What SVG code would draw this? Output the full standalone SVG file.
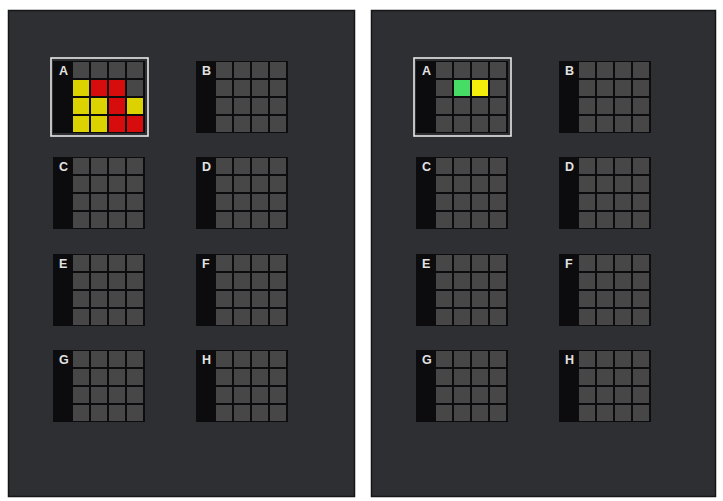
<svg xmlns="http://www.w3.org/2000/svg" xmlns:xlink="http://www.w3.org/1999/xlink" width="723" height="501" viewBox="0 0 723 501">
<style>
.panel{fill:#2e2f33;stroke:#161618;stroke-width:1.5}
.blk{fill:#0c0c0e}
.cell{fill:#474747}
.lbl{font-family:"Liberation Sans",Arial,sans-serif;font-weight:bold;font-size:12.5px;fill:#e2e2e2}
.sel{fill:none;stroke:#e8e8e8;stroke-width:1.6}
.y{fill:#dbd200}
.r{fill:#d70d0d}
.g{fill:#46dc66}
.by{fill:#f4ee0c}
</style>
<defs>
<g id="grid">
<rect class="blk" x="0" y="0" width="92" height="72"/>
<rect class="cell" x="20" y="1" width="16" height="16"/>
<rect class="cell" x="38" y="1" width="16" height="16"/>
<rect class="cell" x="56" y="1" width="16" height="16"/>
<rect class="cell" x="74" y="1" width="16" height="16"/>
<rect class="cell" x="20" y="19" width="16" height="16"/>
<rect class="cell" x="38" y="19" width="16" height="16"/>
<rect class="cell" x="56" y="19" width="16" height="16"/>
<rect class="cell" x="74" y="19" width="16" height="16"/>
<rect class="cell" x="20" y="37" width="16" height="16"/>
<rect class="cell" x="38" y="37" width="16" height="16"/>
<rect class="cell" x="56" y="37" width="16" height="16"/>
<rect class="cell" x="74" y="37" width="16" height="16"/>
<rect class="cell" x="20" y="55" width="16" height="16"/>
<rect class="cell" x="38" y="55" width="16" height="16"/>
<rect class="cell" x="56" y="55" width="16" height="16"/>
<rect class="cell" x="74" y="55" width="16" height="16"/>
</g>
</defs>
<rect x="0" y="0" width="723" height="501" fill="#ffffff"/>
<g id="panel-left">
<rect class="panel" x="8.5" y="10.5" width="346" height="486"/>
</g>
<g id="panel-right">
<rect class="panel" x="371.5" y="10.5" width="344" height="486"/>
</g>
<g id="connectors"></g>
<!-- left panel -->
<g id="L-A" transform="translate(53,61)">
<use href="#grid" xlink:href="#grid"/>
<text class="lbl" x="6" y="14">A</text>
<rect class="y" x="20" y="19" width="16" height="16"/>
<rect class="r" x="38" y="19" width="16" height="16"/>
<rect class="r" x="56" y="19" width="16" height="16"/>
<rect class="y" x="20" y="37" width="16" height="16"/>
<rect class="y" x="38" y="37" width="16" height="16"/>
<rect class="r" x="56" y="37" width="16" height="16"/>
<rect class="y" x="74" y="37" width="16" height="16"/>
<rect class="y" x="20" y="55" width="16" height="16"/>
<rect class="y" x="38" y="55" width="16" height="16"/>
<rect class="r" x="56" y="55" width="16" height="16"/>
<rect class="r" x="74" y="55" width="16" height="16"/>
<rect class="sel" x="-2" y="-3" width="97" height="78"/>
</g>
<g id="L-B" transform="translate(196,61)"><use href="#grid" xlink:href="#grid"/><text class="lbl" x="6" y="14">B</text></g>
<g id="L-C" transform="translate(53,157)"><use href="#grid" xlink:href="#grid"/><text class="lbl" x="6" y="14">C</text></g>
<g id="L-D" transform="translate(196,157)"><use href="#grid" xlink:href="#grid"/><text class="lbl" x="6" y="14">D</text></g>
<g id="L-E" transform="translate(53,254)"><use href="#grid" xlink:href="#grid"/><text class="lbl" x="6" y="14">E</text></g>
<g id="L-F" transform="translate(196,254)"><use href="#grid" xlink:href="#grid"/><text class="lbl" x="6" y="14">F</text></g>
<g id="L-G" transform="translate(53,350)"><use href="#grid" xlink:href="#grid"/><text class="lbl" x="6" y="14">G</text></g>
<g id="L-H" transform="translate(196,350)"><use href="#grid" xlink:href="#grid"/><text class="lbl" x="6" y="14">H</text></g>
<!-- right panel -->
<g id="R-A" transform="translate(416,61)">
<use href="#grid" xlink:href="#grid"/>
<text class="lbl" x="6" y="14">A</text>
<rect class="g" x="38" y="19" width="16" height="16"/>
<rect class="by" x="56" y="19" width="16" height="16"/>
<rect class="sel" x="-2" y="-3" width="97" height="78"/>
</g>
<g id="R-B" transform="translate(559,61)"><use href="#grid" xlink:href="#grid"/><text class="lbl" x="6" y="14">B</text></g>
<g id="R-C" transform="translate(416,157)"><use href="#grid" xlink:href="#grid"/><text class="lbl" x="6" y="14">C</text></g>
<g id="R-D" transform="translate(559,157)"><use href="#grid" xlink:href="#grid"/><text class="lbl" x="6" y="14">D</text></g>
<g id="R-E" transform="translate(416,254)"><use href="#grid" xlink:href="#grid"/><text class="lbl" x="6" y="14">E</text></g>
<g id="R-F" transform="translate(559,254)"><use href="#grid" xlink:href="#grid"/><text class="lbl" x="6" y="14">F</text></g>
<g id="R-G" transform="translate(416,350)"><use href="#grid" xlink:href="#grid"/><text class="lbl" x="6" y="14">G</text></g>
<g id="R-H" transform="translate(559,350)"><use href="#grid" xlink:href="#grid"/><text class="lbl" x="6" y="14">H</text></g>
</svg>
